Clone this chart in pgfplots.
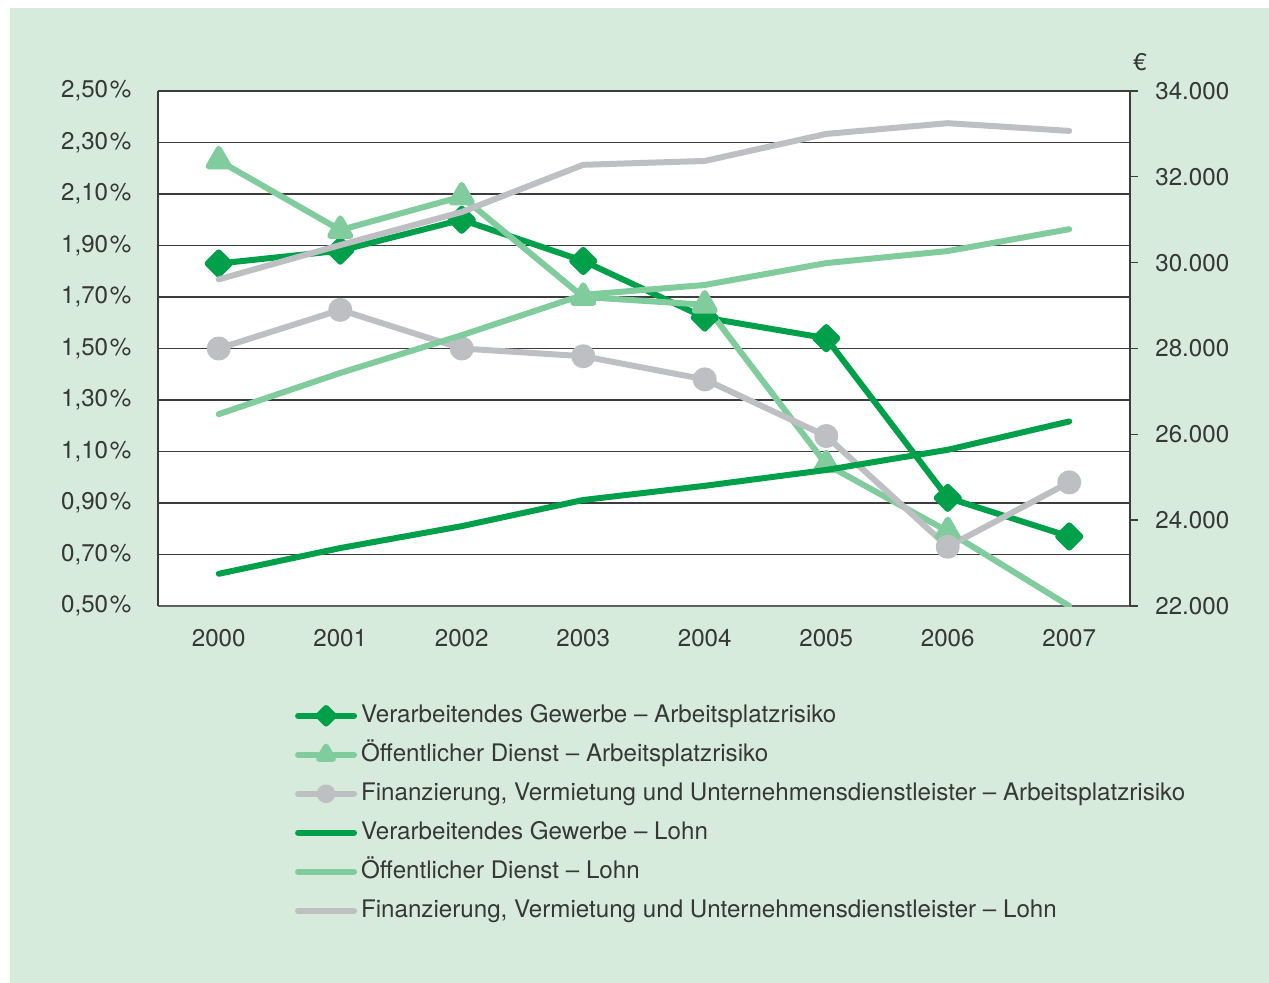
\documentclass[border=0pt]{standalone}
\usepackage{fontspec}
\setmainfont{TeX Gyre Heros}
\usepackage{pgfplots}
\pgfplotsset{compat=1.18}
\definecolor{dkg}{RGB}{0,160,75}
\definecolor{ltg}{RGB}{128,204,156}
\definecolor{gry}{RGB}{190,191,195}
\definecolor{bgc}{RGB}{215,235,221}
\definecolor{txt}{RGB}{55,55,55}
\definecolor{gridc}{RGB}{60,60,60}
\definecolor{botc}{RGB}{95,95,95}
\begin{document}
\fontsize{14.5}{17}\selectfont
\begin{tikzpicture}
\useasboundingbox (0,0) rectangle (761.4pt,589.8pt);
\fill[white] (0,0) rectangle (761.4pt,589.8pt);
\fill[bgc] (6pt,0) rectangle (761.4pt,585pt);
\pgfplotsset{
  common/.style={
    at={(94.8pt,226.2pt)}, anchor=south west,
    scale only axis, width=583.2pt, height=309pt,
    xmin=1999.5, xmax=2007.5,
    /pgf/number format/assume math mode=true,
    tick label style={font=\fontsize{14.5}{17}\selectfont, text=txt},
    every axis plot/.append style={line width=3.6pt, line cap=round, line join=round},
  }
}
\begin{axis}[common,
  axis background/.style={fill=white},
  ymin=0.5, ymax=2.5,
  axis x line*=bottom, axis y line*=left,
  x axis line style={-, draw=botc, line width=1.2pt},
  y axis line style={-, draw=gridc, line width=0.8pt},
  xtick={2000,2001,2002,2003,2004,2005,2006,2007},
  xticklabels={2000,2001,2002,2003,2004,2005,2006,2007},
  ytick={0.5,0.7,0.9,1.1,1.3,1.5,1.7,1.9,2.1,2.3,2.5},
  yticklabels={{0,50\kern1pt\%},{0,70\kern1pt\%},{0,90\kern1pt\%},{1,10\kern1pt\%},{1,30\kern1pt\%},{1,50\kern1pt\%},{1,70\kern1pt\%},{1,90\kern1pt\%},{2,10\kern1pt\%},{2,30\kern1pt\%},{2,50\kern1pt\%}},
  major tick length=0pt,
  xticklabel shift=9pt,
  yticklabel shift=11pt,
  ymajorgrids, major grid style={draw=gridc, line width=0.8pt},
  legend style={at={(0.141,-0.1897)}, anchor=north west, draw=none, fill=none,
    inner sep=0pt, outer sep=0pt, row sep=8.9pt,
    font=\fontsize{14.5}{17}\selectfont, text=txt,
    nodes={inner sep=0pt, text height=11pt, text depth=3.5pt},
    /tikz/every odd column/.append style={column sep=2.4pt}},
  legend cell align=left,
  legend image code/.code={\draw[mark repeat=2,mark phase=2] plot coordinates {(0pt,0pt) (16.8pt,0pt) (33.6pt,0pt)};},
  legend image post style={every mark/.append style={scale=0.7}},
]
\addplot[dkg, mark=square*, mark size=4.7pt, mark options={rotate=45, solid}] coordinates {
(2000,1.83) (2001,1.88) (2002,2.00) (2003,1.84) (2004,1.62) (2005,1.54) (2006,0.92) (2007,0.77)};
\addlegendentry{Verarbeitendes Gewerbe – Arbeitsplatzrisiko}
\addplot[ltg, forget plot] coordinates {(2006,0.79) (2007,0.50)};
\addplot[ltg, mark=triangle*, mark size=7pt] coordinates {
(2000,2.23) (2001,1.96) (2002,2.09) (2003,1.70) (2004,1.67) (2005,1.05) (2006,0.79)};
\addlegendentry{Öffentlicher Dienst – Arbeitsplatzrisiko}
\addplot[gry, mark=*, mark size=5.4pt] coordinates {
(2000,1.50) (2001,1.65) (2002,1.50) (2003,1.47) (2004,1.38) (2005,1.16) (2006,0.73) (2007,0.98)};
\addlegendentry{Finanzierung, Vermietung und Unternehmensdienstleister – Arbeitsplatzrisiko}
\addlegendimage{dkg, line width=3.6pt, line cap=round}
\addlegendentry{Verarbeitendes Gewerbe – Lohn}
\addlegendimage{ltg, line width=3.6pt, line cap=round}
\addlegendentry{Öffentlicher Dienst – Lohn}
\addlegendimage{gry, line width=3.6pt, line cap=round}
\addlegendentry{Finanzierung, Vermietung und Unternehmensdienstleister – Lohn}
\end{axis}
\begin{axis}[common,
  ymin=22000, ymax=34000,
  axis x line=none, axis y line*=right,
  y axis line style={-, draw=gridc, line width=0.8pt},
  scaled y ticks=false,
  ytick={22000,24000,26000,28000,30000,32000,34000},
  yticklabels={22.000,24.000,26.000,28.000,30.000,32.000,34.000},
  tick align=outside, major tick length=4.8pt,
  ytick style={draw=gridc, line width=0.8pt},
  yticklabel shift=5.4pt,
]
\addplot[dkg] coordinates {
(2000,22750) (2001,23350) (2002,23860) (2003,24470) (2004,24800) (2005,25170) (2006,25640) (2007,26300)};
\addplot[ltg] coordinates {
(2000,26470) (2001,27430) (2002,28310) (2003,29250) (2004,29480) (2005,29990) (2006,30270) (2007,30780)};
\addplot[gry] coordinates {
(2000,29610) (2001,30410) (2002,31180) (2003,32280) (2004,32370) (2005,33000) (2006,33250) (2007,33070)};
\end{axis}
\node[text=txt, font=\fontsize{14.5}{17}\selectfont] at (684pt,552.6pt) {€};
\end{tikzpicture}
\end{document}
